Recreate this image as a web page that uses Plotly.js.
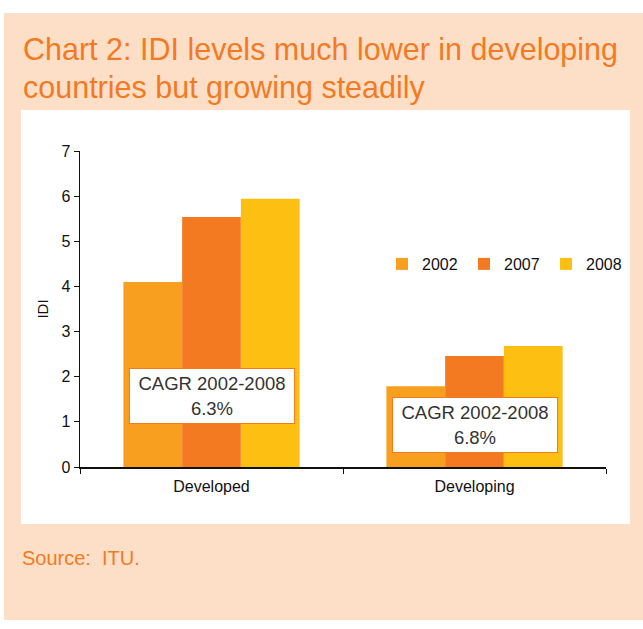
<!DOCTYPE html>
<html>
<head>
<meta charset="utf-8">
<script src="https://cdn.plot.ly/plotly-3.0.1.min.js"></script>
<style>html,body{margin:0;padding:0;background:#fff;}#chart{width:643px;height:629px;}</style>
</head>
<body>
<div id="chart"></div>
<script>
const categories = ['Developed', 'Developing'];
const years = ['2002', '2007', '2008'];
const idi2002 = [4.10, 1.79];
const idi2007 = [5.54, 2.46];
const idi2008 = [5.94, 2.68];
const cagrLabels = ['CAGR 2002-2008<br>6.3%', 'CAGR 2002-2008<br>6.8%'];
const cagrY = [1.57, 0.94];

const colors = ['#F89F1F', '#F47A22', '#FDBF12'];
const series = [idi2002, idi2007, idi2008];

const traces = years.map((y, i) => ({
  type: 'bar', name: y, x: categories, y: series[i],
  marker: {color: colors[i]}, hoverinfo: 'skip'
}));

// plot area: px x 80..606, y 151..467
const L = 80, R = 606, T = 151, B = 467;
const W = R - L, H = B - T;
const px = v => (v - L) / W;
const py = v => (B - v) / H;

const titleFont = {family: 'Liberation Sans, Arial, sans-serif', size: 30.5, color: '#F47A22'};
const annotations = [
  {xref: 'paper', yref: 'paper', x: px(21), y: py(49), xanchor: 'left', yanchor: 'middle', showarrow: false,
   text: 'Chart 2: IDI levels much lower in developing', font: titleFont},
  {xref: 'paper', yref: 'paper', x: px(21), y: py(87), xanchor: 'left', yanchor: 'middle', showarrow: false,
   text: 'countries but growing steadily', font: titleFont},
  {xref: 'paper', yref: 'paper', x: px(20), y: py(558), xanchor: 'left', yanchor: 'middle', showarrow: false,
   text: 'Source:&nbsp;&nbsp;ITU.', font: {family: 'Liberation Sans, Arial, sans-serif', size: 20, color: '#F47A22'}}
];
categories.forEach((c, i) => {
  annotations.push({
    xref: 'x', yref: 'y', x: c, y: cagrY[i], showarrow: false, text: cagrLabels[i],
    font: {family: 'Liberation Sans, Arial, sans-serif', size: 18.5, color: '#333'},
    bgcolor: '#fff', bordercolor: '#F47A22', borderwidth: 1, width: 162, height: 52, borderpad: 1
  });
});

const layout = {
  width: 643, height: 629,
  margin: {l: L, r: 643 - R, t: T, b: 629 - B, pad: 0},
  paper_bgcolor: '#fff', plot_bgcolor: 'rgba(0,0,0,0)',
  barmode: 'group', bargap: 0.33, bargroupgap: 0,
  font: {family: 'Liberation Sans, Arial, sans-serif', size: 16, color: '#111'},
  xaxis: {
    showline: true, linecolor: '#111', linewidth: 1.5, ticks: 'outside', tickson: 'boundaries',
    ticklen: 5, tickcolor: '#111', tickfont: {size: 16, color: '#111'}, showgrid: false, zeroline: false,
    ticklabelstandoff: 4
  },
  yaxis: {
    range: [0, 7], dtick: 1, showline: true, linecolor: '#111', linewidth: 1.5, ticks: 'outside',
    ticklen: 5, tickcolor: '#111', showgrid: false, zeroline: false, tickfont: {size: 16, color: '#111'},
    title: {text: 'IDI', font: {size: 15, color: '#111'}, standoff: 9}
  },
  legend: {
    orientation: 'h', x: px(382), y: py(264), xanchor: 'left', yanchor: 'middle',
    font: {size: 16, color: '#111'}, bgcolor: 'rgba(0,0,0,0)', itemwidth: 30, tracegroupgap: 0,
    entrywidth: 37, entrywidthmode: 'pixels'
  },
  shapes: [
    {type: 'rect', xref: 'paper', yref: 'paper', x0: px(4), x1: px(650), y0: py(620), y1: py(13),
     fillcolor: '#FDDFC8', line: {width: 0}, layer: 'below'},
    {type: 'rect', xref: 'paper', yref: 'paper', x0: px(21), x1: px(630), y0: py(524), y1: py(110),
     fillcolor: '#FFFFFF', line: {width: 0}, layer: 'below'}
  ],
  annotations: annotations,
  showlegend: true
};

Plotly.newPlot('chart', traces, layout, {displayModeBar: false, staticPlot: true});
</script>
</body>
</html>
